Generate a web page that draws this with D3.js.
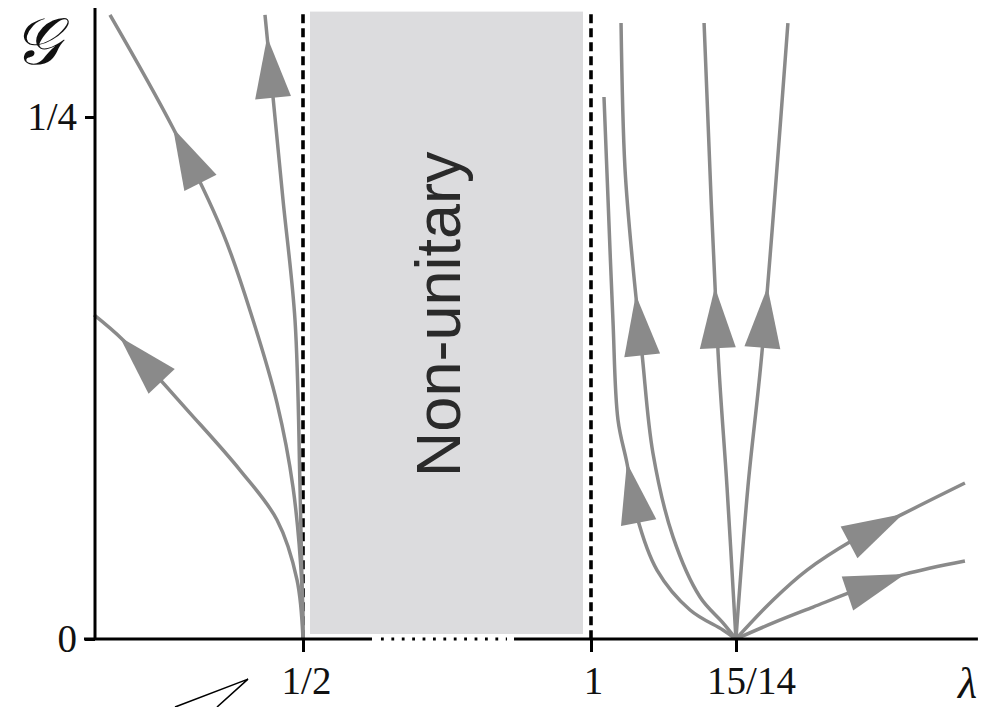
<!DOCTYPE html>
<html>
<head>
<meta charset="utf-8">
<script src="https://cdn.jsdelivr.net/npm/d3@7"></script>
<style>
  html, body { margin: 0; padding: 0; background: #fff; }
  svg { display: block; }
</style>
</head>
<body>
<svg id="chart" width="982" height="707"></svg>
<script>
// ---------------- data ----------------
const xTickValues = [0.5, 1, 15 / 14];
const xTickLabels = ["1/2", "1", "15/14"];
const yTickValues = [0, 0.25];
const yTickLabels = ["0", "1/4"];

const nonUnitaryBand = [0.5, 1];       // lambda range
const nonUnitaryTop = 0.3;             // top of shaded band (G)
const bandLabel = "Non-unitary";

// flow lines: [lambda, G] points, starting at the fixed point
const flowLeft1 = [[0.5, 0], [0.4896, 0.0283], [0.4549, 0.0570], [0.3906, 0.0809], [0.3038, 0.1082], [0.1875, 0.1432], [0.1372, 0.1552]];
const flowLeft2 = [[0.5, 0], [0.4983, 0.0249], [0.4826, 0.0728], [0.4549, 0.1130], [0.4132, 0.1528], [0.3611, 0.1944], [0.2743, 0.2447], [0.1649, 0.2989]];
const flowLeft3 = [[0.5, 0], [0.4948, 0.0728], [0.4861, 0.1528], [0.4653, 0.2103], [0.4479, 0.2596], [0.4340, 0.2989]];
const flowRight1 = [[1.0714, 0], [1.0650, 0.0043], [1.0488, 0.0139], [1.0325, 0.0330], [1.0227, 0.0584], [1.0177, 0.0843], [1.0133, 0.1049], [1.0108, 0.1528], [1.0084, 0.2103], [1.0064, 0.2596]];
const flowRight2 = [[1.0714, 0], [1.0650, 0.0077], [1.0537, 0.0201], [1.0404, 0.0489], [1.0305, 0.0891], [1.0251, 0.1370], [1.0207, 0.1782], [1.0167, 0.2261], [1.0148, 0.2950]];
const flowRight3 = [[1.0714, 0], [1.0670, 0.0728], [1.0626, 0.1370], [1.0557, 0.2950]];
const flowRight4 = [[1.0714, 0], [1.0773, 0.0728], [1.0842, 0.1370], [1.0970, 0.2950]];
const flowRight5 = [[1.0714, 0], [1.0897, 0.0187], [1.1064, 0.0330], [1.1291, 0.0474], [1.1537, 0.0599], [1.1842, 0.0747]];
const flowRight6 = [[1.0714, 0], [1.0897, 0.0077], [1.1094, 0.0153], [1.1310, 0.0235], [1.1547, 0.0311], [1.1842, 0.0374]];

const flows = [flowLeft1, flowLeft2, flowLeft3, flowRight1, flowRight2, flowRight3, flowRight4, flowRight5, flowRight6];
// G value at which each arrow tip sits
const arrowTipG = [0.1446, 0.2447, 0.2883, 0.0843, 0.1648, 0.1686, 0.1686, 0.0599, 0.0311];

// small wedge annotation near the 1/2 label
const wedge = [[0.2778, -0.0326], [0.4045, -0.0192], [0.3507, -0.0326]];

// axis extents
const xAxisExtent = [0.1198, 1.1906];
const xAxisDottedGap = [0.6354, 0.8542]; // dotted part of lambda axis
const yAxisAt = 0.1389;
const yAxisTop = 0.3022;

// ---------------- scales ----------------
const svg = d3.select("#chart");
const x = d3.scaleLinear().domain([0.5, 1, 15 / 14]).range([303, 591, 736]);
const y = d3.scaleLinear().domain([0, 0.25]).range([639, 117]);

const grey = "#8a8a8a";

// shaded band
svg.append("rect")
  .attr("x", x(nonUnitaryBand[0]) + 7)
  .attr("y", y(nonUnitaryTop) - 1)
  .attr("width", x(nonUnitaryBand[1]) - x(nonUnitaryBand[0]) - 15)
  .attr("height", y(0) - y(nonUnitaryTop) - 4)
  .attr("fill", "#dcdcde");

svg.append("text")
  .attr("transform", `translate(${(x(nonUnitaryBand[0]) + x(nonUnitaryBand[1])) / 2 - 9},${y(0.1555)}) rotate(-90)`)
  .attr("text-anchor", "middle")
  .attr("dominant-baseline", "central")
  .attr("font-family", "'Liberation Sans', Arial, sans-serif")
  .attr("font-size", 63)
  .attr("fill", "#2a2a2a")
  .text(bandLabel);

// dashed boundaries
svg.selectAll("line.bound").data(nonUnitaryBand).join("line")
  .attr("class", "bound")
  .attr("x1", d => x(d)).attr("x2", d => x(d))
  .attr("y1", y(0.2992)).attr("y2", y(0))
  .attr("stroke", "#000").attr("stroke-width", 3.6)
  .attr("stroke-dasharray", "9,5");

// flow lines
const line = d3.line().x(d => x(d[0])).y(d => y(d[1])).curve(d3.curveCatmullRom.alpha(0.5));
const paths = svg.selectAll("path.flow").data(flows).join("path")
  .attr("class", "flow")
  .attr("d", line)
  .attr("fill", "none")
  .attr("stroke", grey)
  .attr("stroke-width", 3.5);

// arrowheads
const arrowLen = 61, arrowHalf = 18;
paths.each(function (d, i) {
  const node = this;
  const L = node.getTotalLength();
  const ty = y(arrowTipG[i]);
  let best = 0, bestErr = Infinity;
  for (let s = 0; s <= L; s += 0.5) {
    const p = node.getPointAtLength(s);
    const e = Math.abs(p.y - ty);
    if (e < bestErr) { bestErr = e; best = s; }
  }
  const tip = node.getPointAtLength(best);
  const base = node.getPointAtLength(Math.max(0, best - arrowLen));
  let dx = tip.x - base.x, dy = tip.y - base.y;
  const n = Math.hypot(dx, dy); dx /= n; dy /= n;
  const bx = tip.x - dx * arrowLen, by = tip.y - dy * arrowLen;
  const px = -dy, py = dx;
  svg.append("path")
    .attr("d", `M${tip.x},${tip.y}L${bx + px * arrowHalf},${by + py * arrowHalf}L${bx - px * arrowHalf},${by - py * arrowHalf}Z`)
    .attr("fill", grey);
});

// ---------------- axes ----------------
const axisStroke = 3;
// y axis
svg.append("line")
  .attr("x1", x(yAxisAt)).attr("x2", x(yAxisAt))
  .attr("y1", y(yAxisTop)).attr("y2", y(0))
  .attr("stroke", "#000").attr("stroke-width", axisStroke);
const yAxis = d3.axisLeft(y).tickValues(yTickValues).tickSize(10).tickPadding(8)
  .tickFormat((d, i) => yTickLabels[i]);
const gy = svg.append("g").attr("transform", `translate(${x(yAxisAt)},0)`).call(yAxis);
gy.select(".domain").remove();
gy.selectAll(".tick line").attr("stroke", "#000").attr("stroke-width", axisStroke);
gy.selectAll(".tick text")
  .attr("font-family", "'Liberation Serif', 'Times New Roman', serif")
  .attr("font-size", 39).attr("fill", "#111").attr("dy", "0.32em");

// x axis: solid, dotted, solid
svg.append("line")
  .attr("x1", x(xAxisExtent[0])).attr("x2", x(xAxisDottedGap[0]) - 9)
  .attr("y1", y(0)).attr("y2", y(0))
  .attr("stroke", "#000").attr("stroke-width", axisStroke);
svg.append("line")
  .attr("x1", x(xAxisDottedGap[0])).attr("x2", x(xAxisDottedGap[1]))
  .attr("y1", y(0)).attr("y2", y(0))
  .attr("stroke", "#000").attr("stroke-width", axisStroke)
  .attr("stroke-dasharray", "2.8,7.6");
svg.append("line")
  .attr("x1", x(xAxisDottedGap[1]) + 7).attr("x2", x(xAxisExtent[1]))
  .attr("y1", y(0)).attr("y2", y(0))
  .attr("stroke", "#000").attr("stroke-width", axisStroke);

const labelShift = [3, 2, 15];
const xAxis = d3.axisBottom(x).tickValues(xTickValues).tickSize(13).tickPadding(14)
  .tickFormat((d, i) => xTickLabels[i]);
const gx = svg.append("g").attr("transform", `translate(0,${y(0)})`).call(xAxis);
gx.select(".domain").remove();
gx.selectAll(".tick line").attr("stroke", "#000").attr("stroke-width", axisStroke);
gx.selectAll(".tick text")
  .attr("font-family", "'Liberation Serif', 'Times New Roman', serif")
  .attr("font-size", 39).attr("fill", "#111")
  .attr("dx", (d, i) => labelShift[i]);

// axis symbols
svg.append("text")
  .attr("x", 13).attr("y", 64)
  .attr("font-family", "'DejaVu Serif', 'Liberation Serif', serif")
  .attr("font-style", "italic")
  .attr("font-size", 66).attr("fill", "#111")
  .text("𝒢");
svg.append("text")
  .attr("x", 958).attr("y", 698)
  .attr("font-family", "'Liberation Serif', serif")
  .attr("font-style", "italic")
  .attr("font-size", 44).attr("fill", "#111")
  .text("λ");

// wedge annotation
svg.append("path")
  .attr("d", d3.line().x(d => x(d[0])).y(d => y(d[1]))(wedge))
  .attr("fill", "none").attr("stroke", "#000").attr("stroke-width", 1.5);
</script>
</body>
</html>
